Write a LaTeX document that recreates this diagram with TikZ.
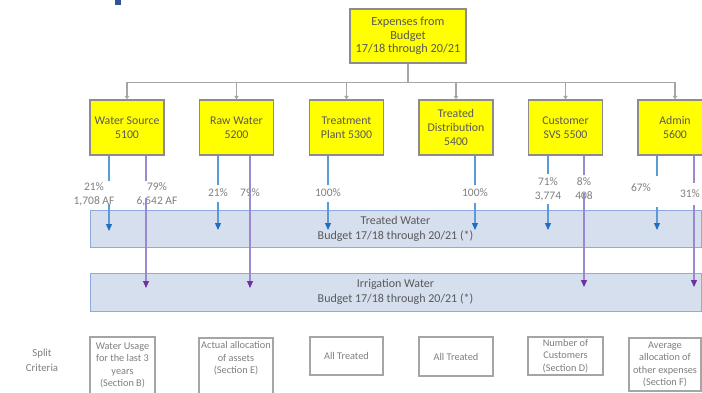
\documentclass[tikz,border=0pt]{standalone}
\usepackage{fontspec}
\setmainfont{Carlito}
\usetikzlibrary{arrows.meta}
\definecolor{boxyellow}{HTML}{FFFF00}
\definecolor{boxedge}{HTML}{8C8C8C}
\definecolor{boxtext}{HTML}{595959}
\definecolor{conngray}{HTML}{A6A6A6}
\definecolor{bandfill}{HTML}{D6DFEE}
\definecolor{bandedge}{HTML}{8FAADC}
\definecolor{bluel}{HTML}{5B9BD5}
\definecolor{blueh}{HTML}{1F6FBF}
\definecolor{purl}{HTML}{9B88CF}
\definecolor{purh}{HTML}{7030A0}
\definecolor{crittext}{HTML}{7F7F7F}
\definecolor{critedge}{HTML}{A5A5A5}
\definecolor{titleblue}{HTML}{2F5597}
\tikzset{
  dept/.style={draw=boxedge, line width=1.4pt, fill=boxyellow, text=boxtext,
    minimum width=74pt, minimum height=55pt, align=center, inner sep=1pt,
    font=\fontsize{11.8}{14}\selectfont},
  band/.style={draw=bandedge, line width=1pt, fill=bandfill, text=boxtext,
    minimum width=611pt, align=center, inner sep=0pt,
    font=\fontsize{12}{15}\selectfont},
  crit/.style={draw=critedge, line width=1.6pt, fill=white, text=crittext,
    align=center, inner sep=1pt, font=\fontsize{10.3}{12.3}\selectfont},
  pct/.style={text=crittext, align=center, inner sep=0pt,
    font=\fontsize{11.5}{14}\selectfont},
  conn/.style={draw=conngray, line width=1.2pt,
    -{Triangle[width=4.5pt,length=3.5pt]}},
  bseg/.style={draw=bluel, line width=1.2pt},
  barr/.style={draw=bluel, line width=1.2pt,
    -{Triangle[width=6pt,length=7pt,color=blueh]}},
  pseg/.style={draw=purl, line width=1.1pt},
  parr/.style={draw=purl, line width=1.1pt,
    -{Triangle[width=6pt,length=7pt,color=purh]}},
}
\begin{document}
\begin{tikzpicture}[x=1pt,y=-1pt]
\useasboundingbox (0,0) rectangle (702,392);
\begin{scope}
\clip (0,0) rectangle (702,392);

% fragment of a heading above the chart
\fill[titleblue] (115,-2) rectangle (120.5,4.5);

% top box
\node[dept, minimum width=116pt, minimum height=54pt, font=\fontsize{12.3}{13.7}\selectfont] (top) at (408,36)
  {Expenses from\\Budget\\17/18 through 20/21};

% departments
\node[dept] (ws) at (127,127.5) {Water Source\\5100};
\node[dept] (rw) at (236.5,127.5) {Raw Water\\5200};
\node[dept] (tp) at (346.5,127.5) {Treatment\\Plant 5300};
\node[dept] (td) at (456,127.5) {Treated\\Distribution\\5400};
\node[dept] (cs) at (565.5,127.5) {Customer\\SVS 5500};
\node[dept] (ad) at (675,127.5) {Admin\\5600};

% tree connectors
\foreach \d in {ws,rw,tp,td,cs,ad}
  \draw[conn] (top.south) -- ++(0,19) -| (\d.north);

% destination bands
\node[band, minimum height=37pt] (tw) at (395.5,228.5)
  {Treated Water\\Budget 17/18 through 20/21 (*)};
\node[band, minimum height=38pt] (iw) at (395.5,292)
  {Irrigation Water\\Budget 17/18 through 20/21 (*)};

% split percentages
\node[pct] (p1) at (94,194) {21\%\\1,708 AF};
\node[pct] (p2) at (157,194) {79\%\\6,542 AF};
\node[pct] (p3) at (218,193) {21\%};
\node[pct] (p4) at (250,193) {79\%};
\node[pct] (p5) at (328,193) {100\%};
\node[pct] (p6) at (475,193) {100\%};
\node[pct] (p7) at (548,189) {71\%\\3,774};
\node[pct] (p8) at (584,189) {8\%\\408};
\node[pct] (p9) at (641,188) {67\%};
\node[pct] (p10) at (690,194) {31\%};

% arrow break points and tips
\coordinate (a1) at (109,181); \coordinate (b1) at (109,204); \coordinate (t1) at (109,231);
\coordinate (a2) at (146,181); \coordinate (b2) at (146,198); \coordinate (t2) at (146,288);
\coordinate (a3) at (218,185); \coordinate (b3) at (218,202); \coordinate (t3) at (218,230);
\coordinate (t4) at (250,288);
\coordinate (a5) at (328,185); \coordinate (b5) at (328,202); \coordinate (t5) at (328,230);
\coordinate (a6) at (475,185); \coordinate (b6) at (475,203); \coordinate (t6) at (475,230);
\coordinate (a7) at (548,174); \coordinate (b7) at (548,204); \coordinate (t7) at (548,230);
\coordinate (a8) at (584,175); \coordinate (b8) at (584,193); \coordinate (t8) at (584,287);
\coordinate (a9) at (657,176); \coordinate (b9) at (657,207); \coordinate (t9) at (657,230);
\coordinate (a10) at (694,183); \coordinate (b10) at (694,205); \coordinate (t10) at (694,287);

% to treated water
\draw[bseg] (ws.south -| a1) -- (a1); \draw[barr] (b1) -- (t1);
\draw[bseg] (rw.south -| a3) -- (a3); \draw[barr] (b3) -- (t3);
\draw[bseg] (tp.south -| a5) -- (a5); \draw[barr] (b5) -- (t5);
\draw[bseg] (td.south -| a6) -- (a6); \draw[barr] (b6) -- (t6);
\draw[bseg] (cs.south -| a7) -- (a7); \draw[barr] (b7) -- (t7);
\draw[bseg] (ad.south -| a9) -- (a9); \draw[barr] (b9) -- (t9);

% to irrigation water
\draw[pseg] (ws.south -| a2) -- (a2); \draw[parr] (b2) -- (t2);
\draw[parr] (rw.south -| t4) -- (t4);
\draw[pseg] (cs.south -| a8) -- (a8); \draw[parr] (b8) -- (t8);
\draw[pseg] (ad.south -| a10) -- (a10); \draw[parr] (b10) -- (t10);

% split criteria
\node[pct, font=\fontsize{10.8}{15}\selectfont] (sc) at (42,360.5) {Split\\Criteria};
\node[crit, minimum width=65pt, minimum height=57pt] (c1) at (122.5,365.5)
  {Water Usage\\for the last 3\\years\\(Section B)};
\node[crit, minimum width=74pt, minimum height=57pt, anchor=north] (c2) at (236,337)
  {};
\node[crit, draw=none, fill=none, anchor=north, inner sep=0pt] (c2t) at (236,341)
  {Actual allocation\\of assets\\(Section E)};
\node[crit, minimum width=73pt, minimum height=38pt] (c3) at (346.5,356) {All Treated};
\node[crit, minimum width=74pt, minimum height=39pt] (c4) at (456,356.5) {All Treated};
\node[crit, minimum width=75pt, minimum height=38pt] (c5) at (565.5,356)
  {Number of\\Customers\\(Section D)};
\node[crit, minimum width=72pt, minimum height=53pt] (c6) at (665,364.5)
  {Average\\allocation of\\other expenses\\(Section F)};
\end{scope}
\end{tikzpicture}
\end{document}
